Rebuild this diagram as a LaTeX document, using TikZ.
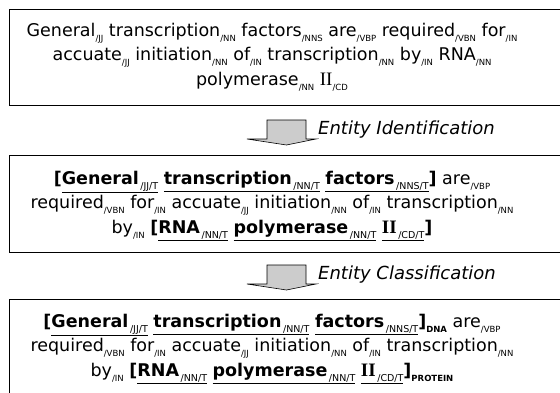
\documentclass[tikz,border=0pt]{standalone}
\usepackage{fontspec}
\setmainfont{DejaVu Sans}
\newfontfamily\romanii{Liberation Serif}

% tag as a lowered small label, entity as bold underlined word with its tag
\newcommand{\tg}[1]{\raisebox{-0.5ex}{\fontsize{8.5}{8.5}\selectfont\mdseries #1}}
\newcommand{\etg}[1]{\raisebox{-0.5ex}{\fontsize{9.5}{9.5}\selectfont\mdseries\,#1}}
\newcommand{\ent}[2]{\underline{\textbf{#1}\etg{#2}}}
\newcommand{\cls}[1]{\raisebox{-0.5ex}{\fontsize{8.5}{8.5}\selectfont\textbf{#1}}}
\newcommand{\romII}{{\romanii\fontsize{19}{19}\selectfont II}}

\tikzset{
    sentbox/.style={draw, line width=0.9pt, anchor=north west, inner sep=0pt},
    sent/.style={align=center, font=\fontsize{17.5}{24.5}\selectfont, inner sep=0pt},
    steplabel/.style={anchor=west, font=\fontsize{18}{18}\selectfont\itshape, inner sep=0pt},
    blockarrow/.style={draw=black, line width=0.6pt, fill=gray!40}
}

\begin{document}
\begin{tikzpicture}[x=1pt, y=-1pt]
        \useasboundingbox (0,0) rectangle (560,392);

        % the three sentence boxes
        \node[sentbox, minimum width=556, minimum height=96] (rawbox) at (9,9) {};
        \node[sentbox, minimum width=556, minimum height=97] (idbox) at (9,155) {};
        \node[sentbox, minimum width=556, minimum height=100] (clsbox) at (9,299) {};

        \node[sent] (raw) at (272,57) {%
            General\tg{/JJ} transcription\tg{/NN} factors\tg{/NNS} are\tg{/VBP} required\tg{/VBN} for\tg{/IN}\\
            accuate\tg{/JJ} initiation\tg{/NN} of\tg{/IN} transcription\tg{/NN} by\tg{/IN} RNA\tg{/NN}\\
            polymerase\tg{/NN} \romII\tg{/CD}};

        \node[sent] (ident) at (272,206) {%
            \textbf{[}\ent{General}{/JJ/T} \ent{transcription}{/NN/T} \ent{factors}{/NNS/T}\textbf{]} are\tg{/VBP}\\
            required\tg{/VBN} for\tg{/IN} accuate\tg{/JJ} initiation\tg{/NN} of\tg{/IN} transcription\tg{/NN}\\
            by\tg{/IN} \textbf{[}\ent{RNA}{/NN/T} \ent{polymerase}{/NN/T} \underline{{\bfseries\romII}\etg{/CD/T}}\textbf{]}};

        \node[sent] (classif) at (272,349) {%
            \textbf{[}\ent{General}{/JJ/T} \ent{transcription}{/NN/T} \ent{factors}{/NNS/T}\textbf{]}\cls{DNA} are\tg{/VBP}\\
            required\tg{/VBN} for\tg{/IN} accuate\tg{/JJ} initiation\tg{/NN} of\tg{/IN} transcription\tg{/NN}\\
            by\tg{/IN} \textbf{[}\ent{RNA}{/NN/T} \ent{polymerase}{/NN/T} \underline{{\bfseries\romII}\etg{/CD/T}}\textbf{]}\cls{PROTEIN}};

        % processing steps between the boxes
        \foreach \ay/\lab/\nm in {120/Entity Identification/idstep, 265/Entity Classification/clsstep} {
            \draw[blockarrow] (267,\ay) -- (306,\ay) -- (306,\ay+19) -- (316,\ay+19)
                -- (286.5,\ay+25) -- (247,\ay+19) -- (267,\ay+19) -- cycle;
            \node[steplabel] (\nm) at (318,\ay+10) {\lab};
        }

    \end{tikzpicture}
\end{document}
